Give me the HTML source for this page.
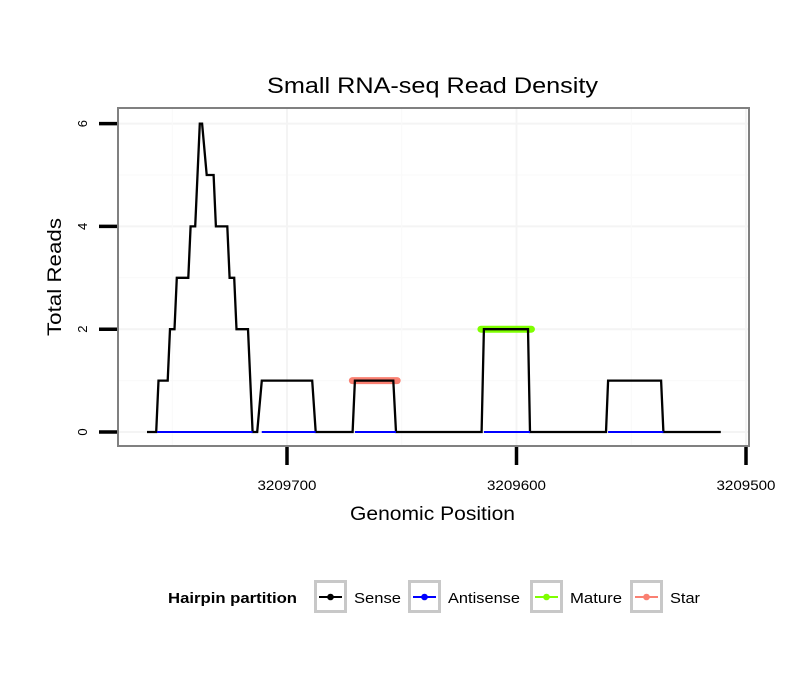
<!DOCTYPE html>
<html><head><meta charset="utf-8"><style>
body{margin:0;background:#fff;font-family:"Liberation Sans",sans-serif}
</style></head><body>
<svg id="chart" width="810" height="690" xmlns="http://www.w3.org/2000/svg" font-family="Liberation Sans, sans-serif">
<text x="267" y="93" font-size="22" textLength="331" lengthAdjust="spacingAndGlyphs">Small RNA-seq Read Density</text>
<g id="grid"></g>
<g id="marks"></g>
<rect x="118" y="108" width="631" height="338" fill="none" stroke="#808080" stroke-width="2"/>
<g id="axes"></g>
<text x="350" y="520" font-size="19" textLength="165" lengthAdjust="spacingAndGlyphs">Genomic Position</text>
<text transform="translate(61,336) rotate(-90)" font-size="19" textLength="118" lengthAdjust="spacingAndGlyphs">Total Reads</text>
<g id="legend"></g>
</svg>
<script>
const xTicks=[3209700,3209600,3209500];
const yTicks=[0,2,4,6];
const sensePos=[3209761,3209757,3209756,3209752,3209751,3209749,3209748,3209743,3209742,3209740,3209738,3209737,3209735,3209732,3209731,3209726,3209725,3209723,3209722,3209717,3209715,3209713,3209711,3209689,3209687.5,3209671.4,3209670.4,3209653.7,3209652.5,3209615.2,3209614.2,3209595,3209594.1,3209561,3209560.1,3209537,3209536,3209511];
const senseVal=[0,0,1,1,2,2,3,3,4,4,6,6,5,5,4,4,3,3,2,2,0,0,1,1,0,0,1,1,0,0,2,2,0,0,1,1,0,0];
const antiStart=[3209756.6,3209711,3209670.4,3209614.2,3209560.1];
const antiEnd=[3209715,3209687.5,3209652.5,3209594.1,3209536];
const matureStart=[3209615.5];const matureEnd=[3209593.5];const matureVal=[2];
const starStart=[3209671.5];const starEnd=[3209652];const starVal=[1];
const legendLabels=["Sense","Antisense","Mature","Star"];
const legendColors=["#000000","#0000ff","#7fff00","#fa8072"];
const NS="http://www.w3.org/2000/svg";
const X=p=>287+(3209700-p)*2.295;
const Y=v=>432-v*51.4;
function mk(tag,attrs,parent){const e=document.createElementNS(NS,tag);for(const k in attrs)e.setAttribute(k,attrs[k]);parent.appendChild(e);return e;}
const grid=document.getElementById('grid'),marks=document.getElementById('marks'),axes=document.getElementById('axes'),legend=document.getElementById('legend');
for(let v=0;v<=6;v++){const l=mk('line',{x1:118,x2:749,y1:Y(v),y2:Y(v),stroke:v%2?'#f9f9f9':'#f4f4f4','stroke-width':v%2?1:2},grid);

}
for(const t of [3209750,3209700,3209650,3209600,3209550,3209500]){const x=X(t);if(x<118||x>749)continue;const l=mk('line',{x1:x,x2:x,y1:108,y2:446,stroke:(t%100)?'#f9f9f9':'#f4f4f4','stroke-width':(t%100)?1:2},grid);

}
for(let i=0;i<starStart.length;i++){const l=mk('line',{x1:X(starStart[i]),x2:X(starEnd[i]),y1:Y(starVal[i]),y2:Y(starVal[i]),stroke:'#fa8072','stroke-width':7,'stroke-linecap':'round'},marks);

}
for(let i=0;i<matureStart.length;i++){const l=mk('line',{x1:X(matureStart[i]),x2:X(matureEnd[i]),y1:Y(matureVal[i]),y2:Y(matureVal[i]),stroke:'#7fff00','stroke-width':7,'stroke-linecap':'round'},marks);

}
const pts=sensePos.map((p,i)=>X(p).toFixed(1)+','+Y(senseVal[i]).toFixed(1)).join(' ');
const sl=mk('polyline',{points:pts,fill:'none',stroke:'#000','stroke-width':2.3,'stroke-linejoin':'miter'},marks);


for(let i=0;i<antiStart.length;i++){const l=mk('line',{x1:X(antiStart[i]),x2:X(antiEnd[i]),y1:Y(0),y2:Y(0),stroke:'#0000ff','stroke-width':2},marks);

}
for(const t of yTicks){const l=mk('line',{x1:99,x2:117,y1:Y(t),y2:Y(t),stroke:'#000','stroke-width':3.5},axes);


const tx=mk('text',{transform:`translate(87,${Y(t)}) rotate(-90)`,'font-size':13,'text-anchor':'middle'},axes);tx.textContent=t;

}
for(const t of xTicks){const l=mk('line',{x1:X(t),x2:X(t),y1:447,y2:465,stroke:'#000','stroke-width':3.5},axes);


const tx=mk('text',{x:X(t),y:490,'font-size':14,'text-anchor':'middle',textLength:59,lengthAdjust:'spacingAndGlyphs'},axes);tx.textContent=t;

}
const lt=mk('text',{x:168,y:603,'font-size':15,'font-weight':'bold',textLength:129,lengthAdjust:'spacingAndGlyphs'},legend);lt.textContent='Hairpin partition';


const boxX=[314,408,530,630];
const labelW=[47,72,52,30];
for(let i=0;i<legendLabels.length;i++){const g=mk('g',{},legend);


mk('rect',{x:boxX[i]+1.5,y:581.5,width:30,height:30,fill:'#fff',stroke:'#c8c8c8','stroke-width':3},g);
mk('line',{x1:boxX[i]+5,x2:boxX[i]+28,y1:597,y2:597,stroke:legendColors[i],'stroke-width':2},g);
mk('circle',{cx:boxX[i]+16.5,cy:597,r:3.3,fill:legendColors[i]},g);
const tx=mk('text',{x:boxX[i]+40,y:603,'font-size':15,textLength:labelW[i],lengthAdjust:'spacingAndGlyphs'},g);tx.textContent=legendLabels[i];}
</script>
</body></html>
